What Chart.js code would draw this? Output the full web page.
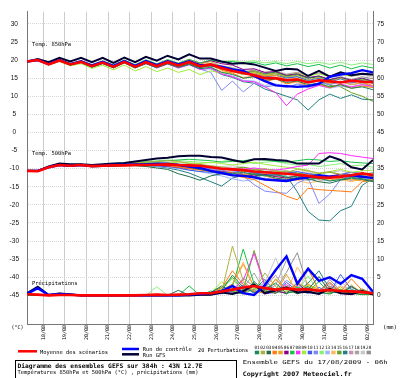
<!DOCTYPE html>
<html>
<head>
<meta charset="utf-8">
<title>Ensembles GEFS</title>
<script src="https://cdn.jsdelivr.net/npm/chart.js@4.4.1/dist/chart.umd.min.js"></script>
<style>
  html, body { margin: 0; padding: 0; background: #fff; }
  canvas { display: block; }
</style>
</head>
<body>
<canvas id="gefs" width="400" height="378" style="width:400px;height:378px"></canvas>
<script>
// run hours from 17/08/2009 06h, 12 h steps
const hours = [0,12,24,36,48,60,72,84,96,108,120,132,144,156,168,180,192,204,216,228,240,252,264,276,288,300,312,324,336,348,360,372,384];
const dayTicks = [18,42,66,90,114,138,162,186,210,234,258,282,306,330,354,378];
const dayLabels = ['18/08','19/08','20/08','21/08','22/08','23/08','24/08','25/08','26/08','27/08','28/08','29/08','30/08','31/08','01/09','02/09'];
const celsiusTicks = [30,25,20,15,10,5,0,-5,-10,-15,-20,-25,-30,-35,-40,-45];
const mmTicks = [75,70,65,60,55,50,45,40,35,30,25,20,15,10,5,0];

// Temp. 850hPa (°C)
const t850Mean = [19.6,20.0,18.8,19.9,18.8,19.5,18.3,19.3,18.1,19.5,18.1,19.4,18.3,19.4,18.5,19.4,18.3,18.8,17.8,17.0,16.4,15.8,15.0,15.0,14.4,14.6,13.8,14.4,14.1,13.8,14.3,14.0,13.9];
const t850Control = [19.6,20.0,18.9,20.0,18.9,19.7,18.5,19.5,18.4,19.7,18.4,19.7,18.6,19.7,18.8,19.7,18.6,18.6,18.2,17.4,17.0,15.6,14.2,13.0,12.8,12.6,12.8,13.4,15.4,16.0,16.4,17.2,16.6];
const t850Gfs = [19.6,20.3,19.4,20.6,19.6,20.6,19.4,20.6,19.2,20.7,19.4,20.9,19.8,21.2,20.2,21.6,20.4,20.4,19.6,19.0,19.2,18.8,17.9,17.0,17.6,17.4,15.6,17.0,15.4,16.6,15.8,16.2,16.0];
const t850Members = [
  [19.6,20.0,18.7,19.8,18.6,19.3,18.0,19.0,17.8,19.2,17.8,19.0,17.9,19.0,18.0,18.8,17.6,18.0,16.6,16.0,15.0,15.4,14.4,14.8,13.8,14.2,13.2,13.6,12.6,13.2,12.2,12.6,11.8],
  [19.6,20.1,18.9,20.0,18.9,19.7,18.5,19.6,18.4,19.8,18.5,19.9,18.8,19.9,19.0,20.0,19.0,19.6,18.2,17.8,16.8,17.0,16.0,16.4,15.4,15.8,14.6,15.2,14.2,15.0,14.0,14.6,13.8],
  [19.6,19.9,18.8,19.8,18.7,19.4,18.2,19.1,18.0,19.3,17.9,19.1,18.0,19.0,18.1,18.9,17.9,18.6,17.6,17.6,16.6,17.0,16.2,16.6,15.6,16.0,15.0,15.4,14.4,15.0,14.2,14.8,14.0],
  [19.6,20.0,18.8,19.9,18.9,19.6,18.4,19.4,18.2,19.6,18.3,19.7,18.6,19.8,18.8,19.9,18.7,19.0,17.2,16.4,15.0,15.4,14.0,14.8,13.4,14.2,12.8,13.4,12.4,13.2,12.2,12.8,12.4],
  [19.6,20.0,18.9,19.9,18.8,19.5,18.3,19.2,18.0,19.4,18.0,19.2,18.1,19.1,18.2,19.0,18.0,18.6,17.4,17.0,16.2,16.4,15.6,15.8,14.6,15.0,14.0,14.6,13.6,14.2,13.2,13.8,13.0],
  [19.6,20.0,18.8,19.9,18.8,19.6,18.4,19.5,18.3,19.7,18.4,19.8,18.7,19.9,18.9,20.0,19.0,19.8,19.0,18.6,17.4,17.6,16.6,16.8,15.8,16.2,15.2,15.6,14.6,15.2,14.4,15.0,14.2],
  [19.6,20.1,18.9,20.0,19.0,19.7,18.6,19.6,18.5,19.9,18.6,20.0,18.9,20.1,19.1,20.2,19.2,20.0,19.4,19.6,19.0,19.4,18.6,19.2,18.4,19.0,18.2,18.8,17.8,18.6,17.6,18.4,17.8],
  [19.6,20.0,18.7,19.8,18.7,19.4,18.1,19.1,17.9,19.3,17.9,19.0,17.8,18.9,17.8,18.7,17.4,17.8,16.2,15.4,14.2,14.0,12.6,11.0,7.4,10.6,12.0,13.0,12.4,13.4,12.6,13.2,12.8],
  [19.6,19.9,18.6,19.6,18.4,19.0,17.7,18.6,17.3,18.6,17.0,18.2,16.8,17.8,16.6,17.4,16.0,17.0,16.4,16.8,16.0,16.6,15.8,16.4,15.8,16.4,15.6,16.2,15.4,16.0,15.6,16.2,15.8],
  [19.6,20.0,18.8,19.9,18.8,19.5,18.3,19.3,18.1,19.5,18.2,19.4,18.4,19.5,18.6,19.5,18.4,18.8,17.6,17.0,16.0,16.2,15.4,15.8,15.0,15.4,14.4,15.0,14.0,14.8,13.8,14.4,13.6],
  [19.6,20.0,18.8,19.8,18.7,19.4,18.2,19.2,18.0,19.3,17.9,19.1,18.0,19.0,18.0,18.8,17.5,16.6,11.6,14.2,11.2,13.6,12.6,13.0,12.4,13.4,12.8,13.8,13.2,14.0,13.6,14.4,14.0],
  [19.6,20.1,19.0,20.1,19.1,19.8,18.7,19.8,18.7,20.0,18.8,20.1,19.0,20.1,19.2,20.2,19.2,19.8,19.6,19.8,19.4,19.8,19.2,19.6,19.0,19.6,19.0,19.4,18.8,19.4,18.6,19.2,18.8],
  [19.6,20.0,18.8,19.9,18.8,19.5,18.3,19.3,18.1,19.4,18.0,19.3,18.2,19.2,18.2,19.0,17.8,17.6,16.2,15.6,14.4,14.2,13.0,13.4,12.6,13.2,12.4,13.0,12.2,12.8,12.4,13.2,12.6],
  [19.6,20.0,18.8,19.9,18.9,19.5,18.3,19.4,18.2,19.5,18.2,19.5,18.3,19.5,18.5,19.4,18.2,18.0,16.8,16.2,15.2,15.6,14.4,15.0,13.6,13.8,12.8,13.2,12.4,13.0,12.6,13.2,12.8],
  [19.6,20.0,18.8,19.9,18.8,19.5,18.3,19.3,18.1,19.4,18.0,19.3,18.1,19.2,18.2,19.1,17.9,18.4,17.8,17.4,16.6,16.8,15.8,16.2,15.2,15.4,14.2,14.4,13.0,12.6,11.0,10.0,8.6],
  [19.6,19.9,18.7,19.8,18.7,19.4,18.2,19.2,18.0,19.3,17.9,19.1,17.9,19.0,17.9,18.8,17.6,17.6,16.0,15.2,14.0,13.6,12.0,11.0,10.0,9.0,6.2,9.0,10.6,9.4,10.4,9.2,9.0],
  [19.6,20.0,18.8,19.9,18.8,19.5,18.3,19.3,18.2,19.5,18.2,19.5,18.4,19.6,18.6,19.6,18.4,18.6,17.6,17.4,16.8,17.2,16.4,16.8,16.0,16.6,15.8,16.4,15.6,16.4,15.6,16.2,15.6],
  [19.6,20.0,18.8,19.9,18.8,19.5,18.3,19.3,18.1,19.4,18.1,19.3,18.2,19.3,18.3,19.2,18.0,18.4,17.6,17.2,16.4,16.6,15.6,15.2,14.4,14.8,13.8,14.2,13.4,14.0,13.2,13.6,12.8],
  [19.6,20.0,18.9,20.0,18.9,19.6,18.4,19.4,18.2,19.6,18.3,19.6,18.5,19.6,18.7,19.7,18.6,19.2,18.4,18.0,17.2,17.4,16.6,17.0,16.2,16.6,15.8,16.4,15.6,16.2,15.4,16.0,15.2],
  [19.6,20.0,18.8,19.9,18.8,19.5,18.3,19.3,18.1,19.4,18.1,19.3,18.2,19.4,18.4,19.3,18.1,18.4,17.4,17.0,16.2,16.6,15.8,16.4,15.4,16.0,15.0,15.6,14.6,15.4,14.6,15.4,14.8]
];

// Temp. 500hPa (°C)
const t500Mean = [-10.6,-10.7,-9.6,-9.0,-9.2,-9.0,-9.3,-9.2,-9.1,-9.1,-9.0,-9.0,-8.9,-8.8,-9.0,-9.1,-9.2,-9.6,-10.0,-10.2,-10.4,-10.8,-11.0,-11.2,-11.4,-11.7,-12.0,-12.4,-12.5,-12.2,-11.8,-11.3,-11.8];
const t500Control = [-10.6,-10.6,-9.6,-9.0,-9.2,-9.0,-9.3,-9.2,-9.0,-8.9,-8.8,-8.8,-8.7,-8.6,-9.0,-9.4,-9.8,-10.6,-11.2,-11.8,-12.0,-12.4,-13.0,-13.2,-13.4,-12.8,-12.4,-11.8,-12.2,-12.2,-11.8,-12.2,-12.6];
const t500Gfs = [-10.6,-10.6,-9.4,-8.6,-8.8,-8.8,-9.0,-8.8,-8.6,-8.4,-8.0,-7.6,-7.2,-7.0,-6.6,-6.4,-6.4,-6.8,-6.9,-7.6,-8.2,-7.4,-7.3,-7.6,-7.8,-8.6,-8.6,-8.6,-6.6,-7.6,-9.6,-10.2,-7.6];
const t500Members = [
  [-10.6,-10.6,-9.5,-9.0,-9.1,-9.0,-9.4,-9.2,-9.2,-9.0,-8.8,-8.6,-8.4,-8.6,-9.0,-9.6,-10.2,-10.8,-11.0,-11.4,-11.0,-11.6,-12.0,-11.6,-12.4,-12.0,-13.0,-12.6,-13.4,-13.0,-12.4,-12.8,-13.4],
  [-10.6,-10.5,-9.6,-8.9,-9.0,-8.8,-9.2,-9.0,-8.9,-8.6,-8.4,-8.2,-8.0,-7.8,-8.0,-8.6,-8.8,-9.2,-9.6,-10.2,-10.8,-10.4,-10.0,-10.6,-11.0,-10.2,-10.6,-11.2,-10.8,-11.6,-12.2,-11.8,-12.4],
  [-10.6,-10.6,-9.7,-9.1,-9.3,-9.1,-9.5,-9.4,-9.3,-9.2,-9.2,-9.4,-9.8,-10.2,-11.4,-12.2,-13.2,-12.0,-11.4,-11.8,-12.2,-11.4,-11.8,-12.6,-13.0,-12.4,-12.8,-13.6,-14.0,-13.2,-12.6,-13.0,-13.6],
  [-10.6,-10.6,-9.6,-9.0,-9.2,-9.0,-9.3,-9.1,-9.0,-8.9,-8.8,-8.9,-9.0,-9.2,-9.6,-10.0,-10.4,-10.8,-11.2,-11.8,-12.4,-13.0,-14.6,-16.2,-17.6,-18.6,-15.4,-15.8,-16.0,-16.2,-16.4,-13.6,-13.2],
  [-10.6,-10.6,-9.7,-9.1,-9.2,-9.0,-9.2,-9.1,-9.0,-8.8,-8.6,-8.6,-8.8,-9.0,-9.4,-9.8,-10.0,-10.6,-11.0,-11.2,-11.6,-11.4,-12.0,-12.8,-13.4,-13.0,-12.4,-12.8,-13.2,-12.6,-13.0,-13.4,-12.8],
  [-10.6,-10.6,-9.6,-9.0,-9.2,-9.1,-9.4,-9.3,-9.2,-9.1,-9.0,-9.0,-9.1,-9.3,-9.6,-10.0,-10.2,-10.6,-10.8,-11.2,-11.6,-12.0,-11.6,-12.2,-12.6,-12.0,-12.4,-12.8,-12.0,-11.6,-12.0,-12.4,-12.0],
  [-10.6,-10.6,-9.6,-9.0,-9.1,-8.9,-9.2,-9.0,-8.8,-8.6,-8.4,-8.2,-8.0,-7.8,-7.6,-7.4,-7.6,-7.8,-8.2,-8.0,-7.8,-7.4,-7.6,-8.0,-8.2,-7.8,-7.4,-7.6,-8.0,-7.8,-8.2,-8.4,-8.6],
  [-10.6,-10.6,-9.6,-9.0,-9.2,-9.0,-9.3,-9.2,-9.1,-9.0,-8.9,-8.8,-8.8,-8.9,-9.0,-9.2,-9.4,-9.6,-10.0,-10.4,-10.2,-9.8,-10.2,-10.4,-10.0,-9.4,-9.0,-5.8,-5.6,-5.8,-6.4,-6.8,-7.2],
  [-10.6,-10.5,-9.5,-8.9,-9.0,-8.8,-9.1,-8.9,-8.8,-8.6,-8.4,-8.4,-8.6,-8.4,-8.2,-8.4,-8.6,-8.2,-8.6,-9.0,-8.6,-8.2,-8.8,-9.2,-9.6,-10.0,-10.4,-11.6,-10.8,-10.2,-11.0,-10.6,-10.4],
  [-10.6,-10.6,-9.6,-9.0,-9.2,-9.1,-9.3,-9.2,-9.1,-9.0,-9.0,-9.0,-9.2,-9.4,-9.8,-10.4,-10.8,-11.0,-11.4,-11.0,-10.6,-11.2,-11.6,-11.8,-11.2,-10.8,-11.4,-11.8,-12.2,-11.6,-11.0,-11.4,-11.8],
  [-10.6,-10.6,-9.6,-9.0,-9.2,-9.0,-9.3,-9.1,-9.0,-8.8,-8.6,-8.4,-8.4,-8.6,-8.8,-9.2,-9.6,-10.0,-10.4,-11.2,-12.0,-14.4,-16.2,-16.6,-16.8,-14.0,-12.6,-19.6,-17.0,-13.0,-12.0,-12.6,-12.2],
  [-10.6,-10.6,-9.5,-8.8,-9.0,-8.8,-9.0,-8.8,-8.6,-8.4,-8.2,-8.0,-7.8,-7.6,-7.8,-8.0,-8.2,-8.4,-8.0,-7.6,-8.0,-8.6,-8.2,-8.0,-8.6,-9.0,-8.8,-9.4,-9.0,-8.6,-9.2,-9.0,-9.6],
  [-10.6,-10.6,-9.6,-9.0,-9.2,-9.0,-9.3,-9.2,-9.1,-9.0,-9.0,-9.1,-9.3,-9.6,-10.0,-10.4,-10.8,-11.4,-12.0,-12.8,-13.4,-13.0,-12.6,-13.2,-13.6,-12.8,-12.4,-13.0,-13.4,-12.8,-12.2,-12.6,-13.0],
  [-10.6,-10.6,-9.6,-9.0,-9.1,-9.0,-9.3,-9.1,-9.0,-8.9,-8.8,-8.8,-9.0,-9.2,-9.4,-9.8,-10.2,-10.6,-11.0,-10.6,-10.2,-10.8,-11.4,-12.0,-12.6,-13.2,-14.0,-13.4,-12.8,-13.0,-13.6,-12.8,-12.2],
  [-10.6,-10.6,-9.6,-9.0,-9.2,-9.0,-9.2,-9.1,-9.0,-8.8,-8.7,-8.6,-8.6,-8.8,-9.0,-9.2,-9.2,-9.6,-10.2,-10.0,-9.6,-10.2,-10.8,-11.0,-10.6,-11.2,-11.8,-11.4,-11.0,-11.6,-12.0,-11.6,-11.2],
  [-10.6,-10.6,-9.6,-9.0,-9.2,-9.0,-9.4,-9.3,-9.2,-9.1,-9.1,-9.2,-9.4,-9.8,-10.4,-11.2,-12.4,-13.6,-14.8,-12.6,-11.8,-12.2,-11.8,-12.0,-12.0,-16.4,-21.8,-24.2,-24.4,-21.6,-20.4,-14.6,-12.6],
  [-10.6,-10.6,-9.6,-9.0,-9.2,-9.0,-9.3,-9.2,-9.0,-8.9,-8.8,-8.7,-8.6,-8.6,-8.8,-9.0,-9.2,-9.4,-9.6,-9.8,-10.0,-10.4,-10.2,-10.6,-11.0,-11.4,-11.2,-11.8,-12.2,-11.6,-11.0,-11.4,-11.8],
  [-10.6,-10.6,-9.6,-9.0,-9.2,-9.0,-9.3,-9.2,-9.1,-9.0,-8.9,-8.9,-8.9,-9.0,-9.2,-9.4,-9.6,-9.8,-10.2,-10.4,-10.6,-11.0,-11.4,-11.6,-11.2,-11.8,-12.2,-12.0,-12.6,-12.2,-11.8,-12.0,-12.4],
  [-10.6,-10.6,-9.6,-9.0,-9.1,-8.9,-9.2,-9.0,-8.9,-8.8,-8.6,-8.5,-8.4,-8.4,-8.6,-8.8,-9.0,-9.2,-9.4,-9.2,-9.6,-10.0,-10.4,-10.2,-10.8,-11.2,-10.8,-11.4,-11.0,-10.6,-11.2,-11.6,-11.0],
  [-10.6,-10.6,-9.6,-9.0,-9.2,-9.0,-9.3,-9.2,-9.1,-9.0,-9.0,-9.1,-9.2,-9.4,-9.6,-9.8,-10.0,-10.2,-10.6,-11.0,-11.4,-11.2,-11.6,-12.0,-12.4,-12.8,-13.2,-12.6,-12.2,-12.8,-13.2,-12.6,-12.4]
];

// Précipitations (mm)
const precipMean = [0.3,0.2,0,0.1,0.1,0,0,0,0,0,0,0.1,0.2,0.1,0.2,0.3,0.6,0.6,1.1,1.6,2.2,2.6,2.0,1.6,1.9,1.6,1.7,1.3,1.5,1.2,1.1,0.9,0.6];
const precipControl = [0.4,2.0,0.1,0.4,0.2,0,0,0,0,0,0,0,0,0,0,0.2,0.4,0.6,1.2,2.6,0.6,0.1,2.8,7.0,10.8,3.2,7.4,4.0,5.0,3.2,5.6,4.6,1.0];
const precipGfs = [0.6,2.4,0.1,0.5,0.3,0,0,0,0,0,0,0,0,0,0,0,0.2,0.2,0.8,0.4,1.2,3.0,0.6,1.4,2.2,0.8,1.0,0.4,1.8,0.6,0.4,1.2,0.2];
const precipMembers = [
  [0,0,0,0,0,0,0,0,0,0,0,0,0,0,0,0.2,0.4,0.6,1.4,5.6,2.2,0.8,1.6,3.4,0.6,1.2,2.4,0.8,0.4,1.6,0.6,0.2,0.4],
  [0,0,0,0,0,0,0,0,0,0,0,0,0,0,0,0,0.2,0.4,0.8,13.6,4.0,1.2,6.2,2.4,0.8,3.6,1.8,0.4,2.2,0.6,1.4,0.6,0.2],
  [0,0,0,0,0,0,0,0,0,0,0,0,0,0,1.4,0,0.2,0.8,2.6,1.0,0.4,3.8,1.2,0.6,2.0,0.4,1.6,5.2,1.0,0.6,2.4,0.8,0.2],
  [0,0,0,0,0,0,0,0,0,0,0,0,0,0,0,0,0.2,0.4,2.0,6.8,3.0,1.0,0.8,4.4,1.6,2.6,7.6,1.2,3.6,1.0,4.6,1.4,0.6],
  [0,0,0,0,0,0,0,0,0,0,0,0,0,0,0,0,0,0.2,1.0,3.2,8.6,2.4,1.2,0.6,5.8,0.8,3.0,1.6,0.8,2.4,0.4,1.2,0.2],
  [0,0,0,0,0,0,0,0,0,0,0,0,0,0,0,0,0,0.4,0.6,1.8,0.8,2.6,0.4,1.2,0.6,3.4,0.8,0.4,1.8,0.6,0.2,1.0,0.4],
  [0,0,0,0,0,0,0,0,0,0,0,0,0,0,0,2.6,0,1.2,0.6,2.4,12.8,3.2,0.8,1.6,0.4,2.2,1.0,3.8,0.6,1.4,0.4,0.8,0.2],
  [0,0,0,0,0,0,0,0,0,0,0,0,0,0,0,0,0,0.2,0.8,1.6,4.2,11.6,2.6,1.0,3.0,0.8,1.8,0.6,2.4,0.4,1.2,0.6,0.4],
  [0,0,0,0,0,0,0,0,0,0,0,0,0,0,0,0,0.4,0.6,3.8,1.2,0.6,2.0,0.8,4.6,1.4,0.6,2.8,1.0,0.4,1.8,0.6,0.2,0.2],
  [0,0,0,0,0,0,0,0,0,0,0,0,0,0,0,0,0,0.2,0.6,1.4,2.8,0.6,1.8,0.8,3.6,1.2,0.6,2.2,0.8,5.8,1.6,0.6,1.4],
  [0,0,0,0,0,0,0,0,0,0,0,0,0,0,0,0,0,0.4,1.2,0.6,2.2,1.4,0.4,0.8,4.2,2.0,0.6,1.4,3.6,0.8,0.4,1.2,0.4],
  [0,0,0,0,0,0,0,0,0,0,0,0,2.4,0,0,0,0.2,0.6,1.8,4.6,1.0,3.2,1.6,0.6,2.6,1.0,5.4,0.8,2.0,0.6,1.8,0.4,0.2],
  [0,0,0,0,0,0,0,0,0,0,0,0,0,0,0,0,0,0.2,0.4,1.0,2.4,0.8,3.8,1.6,0.4,2.8,1.2,0.6,1.6,4.0,0.8,1.2,0.4],
  [0,0,0,0,0,0,0,0,0,0,0,0,0,0,0,0,0,0.4,1.6,3.0,9.2,2.0,0.6,1.4,0.8,7.8,3.2,1.0,2.4,0.8,3.0,0.6,0.4],
  [0,0,0,0,0,0,0,0,0,0,0,0,0,0,0,0,0.2,0.8,2.2,5.0,1.4,12.4,3.0,1.2,0.6,2.4,1.0,0.4,2.6,1.2,0.6,1.6,0.4],
  [0,0,0,0,0,0,0,0,0,0,0,0,0,0,0,0,0,0.4,1.0,2.6,0.8,1.6,4.4,0.8,2.2,1.0,3.4,6.8,1.8,0.8,2.6,0.6,0.4],
  [0,0,0,0,0,0,0,0,0,0,0,0,0,0,0,0,0,0.2,0.6,1.2,3.6,0.8,2.2,5.6,1.2,0.6,1.8,0.8,3.2,1.0,0.4,1.4,0.2],
  [0,0,0,0,0,0,0,0,0,0,0,0,0,0,0,0,0,0.4,1.4,0.6,2.0,6.2,1.0,2.8,9.8,3.6,1.4,0.6,1.8,0.6,2.2,0.8,0.4],
  [0,0,0,0,0,0,0,0,0,0,0,0,0,0,0,0,0,0.2,0.8,2.0,0.6,1.8,3.4,10.4,2.2,0.8,7.0,1.6,0.6,2.8,1.0,0.4,0.6],
  [0,0,0,0,0,0,0,0,0,0,0,0,0,0,0,0,0,0.6,1.2,0.8,4.8,2.4,0.8,1.6,6.4,11.8,2.0,0.8,4.4,1.2,0.6,1.8,0.4]
];

const memberNames = ['01','02','03','04','05','06','07','08','09','10','11','12','13','14','15','16','17','18','19','20'];
const memberColors = ['#1a8a5a','#b0b040','#1e6e4e','#ff7a10','#f0a020','#8a008a','#18c048','#ff28ff','#a0ec38','#3a5cf0',
                      '#8088f0','#88f078','#98b4ff','#ffb860','#64a020','#208080','#c890b4','#a4a4a4','#c8c8c8','#909090'];

const MONO = '"DejaVu Sans Mono", monospace';
const CEL_MIN = -52.9, CEL_MAX = 33.3, MM_SHIFT = 45;

// draws text squeezed/stretched to the width measured on the reference
function fitText(ctx, text, x, y, size, width, bold, align) {
    ctx.save();
    ctx.font = (bold ? 'bold ' : '') + size + 'px ' + MONO;
    ctx.textAlign = align || 'left';
    const w = ctx.measureText(text).width;
    ctx.translate(x, y);
    ctx.scale(width / w, 1);
    ctx.fillText(text, 0, 0);
    ctx.restore();
}

function stroke(ctx, color, width, x1, y1, x2, y2) {
    ctx.strokeStyle = color;
    ctx.lineWidth = width;
    ctx.beginPath();
    ctx.moveTo(x1, y1);
    ctx.lineTo(x2, y2);
    ctx.stroke();
}

const decorations = {
    id: 'decorations',
    afterDraw(chart) {
        const ctx = chart.ctx;
        ctx.save();
        ctx.fillStyle = '#000';
        ctx.textBaseline = 'alphabetic';

        fitText(ctx, 'Temp. 850hPa', 32, 45.5, 5.5, 39);
        fitText(ctx, 'Temp. 500hPa', 32, 154.5, 5.5, 39);
        fitText(ctx, 'Précipitations', 32, 284.5, 5.5, 45.5);
        fitText(ctx, '(°C)', 11.5, 329, 5.5, 12);
        fitText(ctx, '(mm)', 383, 329, 5.5, 14);

        // legend
        stroke(ctx, '#ff0000', 2.5, 18, 351.3, 37, 351.3);
        fitText(ctx, 'Moyenne des scénarios', 40, 354, 5.5, 68);
        stroke(ctx, '#0000ff', 2.5, 122, 349, 139, 349);
        stroke(ctx, '#000033', 2.5, 122, 354.3, 139, 354.3);
        fitText(ctx, 'Run de contrôle', 142.7, 351.2, 5.5, 49);
        fitText(ctx, 'Run GFS', 142.7, 356.5, 5.5, 22.8);
        fitText(ctx, '20 Perturbations', 198, 352.3, 5.5, 50);

        memberColors.forEach((color, k) => {
            const x = 254.8 + k * 5.88;
            ctx.fillStyle = color;
            ctx.fillRect(x, 350.7, 4.4, 3.6);
            ctx.fillStyle = '#000';
            fitText(ctx, memberNames[k], x + 2.2, 348.6, 4.5, 5.2, false, 'center');
        });

        // caption
        ctx.strokeStyle = '#000';
        ctx.lineWidth = 1;
        ctx.strokeRect(15.5, 360.5, 221, 30);
        fitText(ctx, 'Diagramme des ensembles GEFS sur 384h : 43N 12.7E', 17.5, 367.5, 6.2, 185, true);
        fitText(ctx, 'Températures 850hPa et 500hPa (°C) , précipitations (mm)', 17.5, 373.7, 5.5, 181);
        fitText(ctx, 'Ensemble GEFS du 17/08/2009 - 06h', 242.7, 364.2, 5.5, 145);
        fitText(ctx, 'Copyright 2007 Meteociel.fr', 242.7, 375.8, 6.2, 109, true);
        ctx.restore();
    }
};

const line = (data, color, width, axis) => ({
    data,
    borderColor: color,
    borderWidth: width,
    yAxisID: axis,
    pointRadius: 0,
    pointHoverRadius: 0,
    tension: 0,
    fill: false,
});

// first datasets are drawn on top
const datasets = [
    line(t850Mean, '#ff0000', 2.6, 'y'),
    line(t500Mean, '#ff0000', 2.6, 'y'),
    line(precipMean, '#ff0000', 2.6, 'mm'),
    line(t850Control, '#0000ff', 2.4, 'y'),
    line(t500Control, '#0000ff', 2.4, 'y'),
    line(precipControl, '#0000ff', 2.4, 'mm'),
    line(t850Gfs, '#000033', 2, 'y'),
    line(t500Gfs, '#000033', 2, 'y'),
    line(precipGfs, '#000033', 2, 'mm'),
];
memberColors.forEach((color, k) => {
    datasets.push(line(t850Members[k], color, 1, 'y'));
    datasets.push(line(t500Members[k], color, 1, 'y'));
    datasets.push(line(precipMembers[k], color, 1, 'mm'));
});

const tickFont = { family: 'Liberation Sans, sans-serif', size: 6.5 };

new Chart(document.getElementById('gefs').getContext('2d'), {
    type: 'line',
    data: { labels: hours, datasets },
    options: {
        responsive: false,
        animation: false,
        devicePixelRatio: 1,
        layout: { padding: 0 },
        events: [],
        plugins: {
            legend: { display: false },
            tooltip: { enabled: false },
        },
        scales: {
            x: {
                type: 'linear',
                min: 0,
                max: 384,
                afterBuildTicks: (scale) => { scale.ticks = dayTicks.map(v => ({ value: v })); },
                afterFit: (scale) => { scale.height = 54; },
                ticks: {
                    autoSkip: false,
                    minRotation: 90,
                    maxRotation: 90,
                    padding: 1,
                    color: '#000',
                    font: { family: 'DejaVu Sans Mono, monospace', size: 5 },
                    callback: (v) => dayLabels[dayTicks.indexOf(v)],
                },
                grid: { color: '#cccccc', lineWidth: 1, drawTicks: false },
                border: { color: '#777', width: 1 },
            },
            y: {
                position: 'left',
                min: CEL_MIN,
                max: CEL_MAX,
                afterBuildTicks: (scale) => { scale.ticks = celsiusTicks.map(v => ({ value: v })); },
                afterFit: (scale) => { scale.width = 27; },
                ticks: { crossAlign: 'center', padding: 8, color: '#111', font: tickFont },
                grid: { color: '#d6d6d6', lineWidth: 1, drawTicks: false },
                border: { color: '#777', width: 1, dash: [1, 1] },
            },
            mm: {
                position: 'right',
                min: CEL_MIN + MM_SHIFT,
                max: CEL_MAX + MM_SHIFT,
                afterBuildTicks: (scale) => { scale.ticks = mmTicks.map(v => ({ value: v })); },
                afterFit: (scale) => { scale.width = 27; },
                ticks: { crossAlign: 'near', padding: 4, color: '#111', font: tickFont },
                grid: { display: false, drawTicks: false },
                border: { color: '#777', width: 1 },
            },
        },
    },
    plugins: [decorations],
});
</script>
</body>
</html>
